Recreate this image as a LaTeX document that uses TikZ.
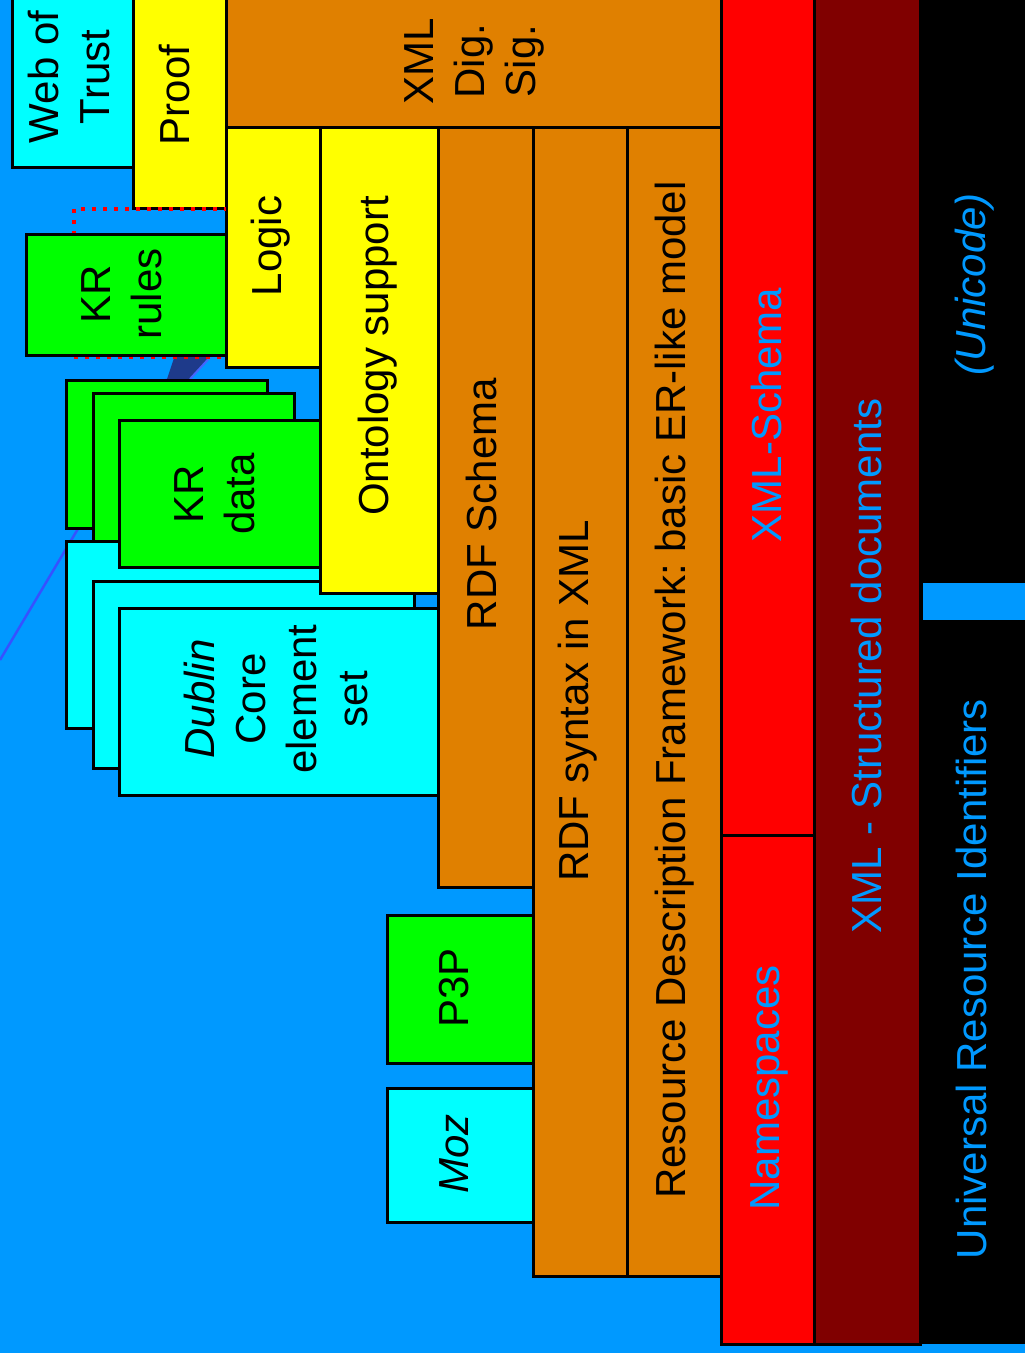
\documentclass[tikz,border=0pt]{standalone}
\usepackage{fontspec}
\setmainfont{Liberation Sans}
\definecolor{bgblue}{HTML}{0099FF}
\definecolor{orng}{HTML}{E08000}
\definecolor{ylw}{HTML}{FFFF00}
\definecolor{grn}{HTML}{00FF00}
\definecolor{cyn}{HTML}{00FFFF}
\definecolor{rd}{HTML}{FF0000}
\definecolor{drd}{HTML}{800000}
\definecolor{navyband}{HTML}{1E3A8A}
\definecolor{edgeblue}{HTML}{4466FF}
\frenchspacing
\begin{document}
\begin{tikzpicture}[x=1pt,y=-1pt,
  box/.style={draw=black,line width=3pt},
  lab/.style={rotate=90,align=center,inner sep=0pt,font=\fontsize{42}{51}\selectfont},
  bluelab/.style={lab,text=bgblue}]
\useasboundingbox (0,0) rectangle (1025,1353);
\clip (0,0) rectangle (1025,1353);
\fill[bgblue] (0,0) rectangle (1025,1353);

% diagonal line and band
\draw[edgeblue!80!blue,line width=2.5pt] (0,660) -- (167,379);
\fill[navyband] (180,340) -- (226,340) -- (190,379) -- (167,379) -- cycle;
\draw[edgeblue,line width=2pt] (190,379) -- (226,340);

% right columns
\fill[black] (920,-5) rectangle (1030,1344);
\filldraw[box,fill=drd] (814,-5) rectangle (920,1344);
\filldraw[box,fill=rd] (721,-5) rectangle (814,835);
\filldraw[box,fill=rd] (721,835) rectangle (814,1344);
\fill[bgblue] (923,583) rectangle (1030,620);

% top orange and left top boxes
\filldraw[box,fill=orng] (226,-5) rectangle (721,127);
\filldraw[box,fill=ylw] (133,-5) rectangle (226,208);
\filldraw[box,fill=cyn] (12,-5) rectangle (133,167);

% layer columns
\filldraw[box,fill=ylw] (226,127) rectangle (320,367);
\filldraw[box,fill=orng] (438,127) rectangle (533,887);
\filldraw[box,fill=orng] (533,127) rectangle (627,1276);
\filldraw[box,fill=orng] (627,127) rectangle (721,1276);

% KR rules with dotted frame
\draw[rd,line width=4pt,dash pattern=on 4pt off 7pt] (74,356) -- (74,209) -- (226,209);
\draw[rd,line width=3pt,dash pattern=on 4pt off 7pt] (74,357) -- (226,357);
\filldraw[box,fill=grn] (26,234) rectangle (226,355);

% stacked cards
\filldraw[box,fill=grn] (66,380) rectangle (267,528);
\filldraw[box,fill=grn] (93,393) rectangle (294,541);
\filldraw[box,fill=cyn] (66,541) rectangle (387,728);
\filldraw[box,fill=grn] (119,420) rectangle (320,567);
\filldraw[box,fill=cyn] (93,581) rectangle (414,768);
\filldraw[box,fill=cyn] (119,608) rectangle (438,795);

% ontology on top
\filldraw[box,fill=ylw] (320,127) rectangle (438,593);

% P3P and Moz
\filldraw[box,fill=grn] (387,915) rectangle (533,1063);
\filldraw[box,fill=cyn] (387,1088) rectangle (533,1222);

% labels
\node[lab] (wot) at (69,77) {Web of\\Trust};
\node[lab] (proof) at (175,95) {Proof};
\node[lab] (dsig) at (474,61) {XML\\Dig.\\Sig.};
\node[lab] (logic) at (271,246) {Logic};
\node[lab] (krrules) at (122,294) {KR\\rules};
\node[lab] (onto) at (378,356) {Ontology support};
\node[lab] (krdata) at (215,494) {KR\\data};
\node[lab] (dc) at (276,699) {\textit{Dublin}\\Core\\element\\set};
\node[lab] (rdfs) at (481,504) {RDF Schema};
\node[lab] (rdfxml) at (578,701) {RDF syntax in XML};
\node[lab] (rdfm) at (675,690) {Resource Description Framework: basic ER-like model};
\node[lab] (p3p) at (454,988) {P3P};
\node[lab] (moz) at (454,1154) {\textit{Moz}};
\node[bluelab] (xsd) at (766,415) {XML-Schema};
\node[bluelab] (ns) at (769,1088) {Namespaces};
\node[bluelab] (xml) at (866,666) {XML - Structured documents};
\node[bluelab] (uri) at (971,979) {Universal Resource Identifiers};
\node[bluelab] (uni) at (975,284) {\textit{(Unicode)}};
\end{tikzpicture}
\end{document}
